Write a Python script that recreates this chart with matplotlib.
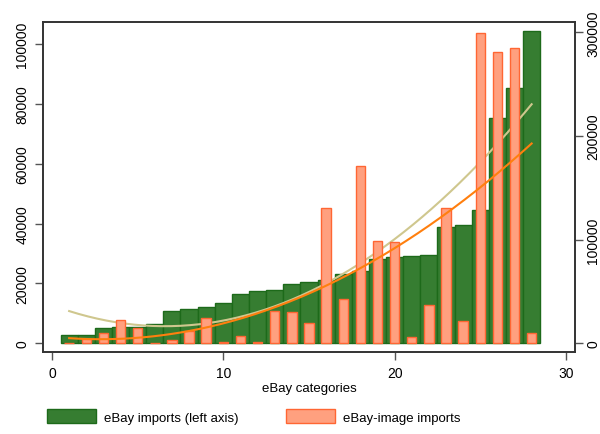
import numpy as np
import matplotlib
matplotlib.use('Agg')
import matplotlib.pyplot as plt
from matplotlib.patches import Patch

plt.rcParams['font.family'] = ['Liberation Sans', 'DejaVu Sans']

# eBay categories 1..28
categories = list(range(1, 29))

# eBay imports (left axis)
ebay_imports = [2800, 2800, 5000, 5400, 5400, 6300, 10800, 11500, 12300, 13500,
                16400, 17500, 17900, 19800, 20400, 21100, 23100, 24000, 28300, 28800,
                29100, 29500, 38800, 39600, 44400, 75200, 85300, 104200]

# eBay-image imports (right axis)
image_imports = [500, 4100, 9600, 22500, 14800, 600, 3500, 11700, 24200, 1000,
                 6600, 1000, 31100, 29900, 19300, 130200, 43200, 171000, 98800, 97400,
                 6400, 36600, 130200, 21800, 299200, 280600, 285100, 9600]

green = '#367d31'
green_edge = '#1d6a1a'
salmon = '#ffa07f'
salmon_edge = '#ff6633'
tan = '#cfc78e'
orange = '#ff7f0e'

x = np.array(categories)
g = np.array(ebay_imports)
o = np.array(image_imports)

fig = plt.figure(figsize=(6, 4.35), dpi=100)
ax = fig.add_axes([0.0717, 0.1878, 0.8866, 0.7586])
ax2 = ax.twinx()

ax.bar(x, g, width=1.0, color=green, edgecolor=green_edge, linewidth=1)
# quadratic fits
xs = np.linspace(1, 28, 200)
ax.plot(xs, np.polyval(np.polyfit(x, g, 2), xs), color=tan, linewidth=1.5)

ax2.bar(x, o, width=0.55, color=salmon, edgecolor=salmon_edge, linewidth=1)
ax2.plot(xs, np.polyval(np.polyfit(x, o, 2), xs), color=orange, linewidth=1.5)

ax.set_xlim(-0.525, 30.53)
ax.set_ylim(-3000, 107250)
ax2.set_ylim(-8680, 309650)

ax.set_xticks([0, 10, 20, 30])
ax.set_yticks([0, 20000, 40000, 60000, 80000, 100000])
ax2.set_yticks([0, 100000, 200000, 300000])

for a in (ax, ax2):
    for s in a.spines.values():
        s.set_linewidth(1.2)
        s.set_color('#333333')
    a.tick_params(length=6, width=1, color='#555555', labelsize=10)

ax.tick_params(axis='y', labelrotation=90, pad=4)
ax2.tick_params(axis='y', labelrotation=90, pad=2)
for l in ax.get_yticklabels() + ax2.get_yticklabels():
    l.set_va('center')

ax.set_xlabel('eBay categories', fontsize=9.5, labelpad=2)

handles = [Patch(facecolor=green, edgecolor=green_edge, label='eBay imports (left axis)'),
           Patch(facecolor=salmon, edgecolor=salmon_edge, label='eBay-image imports')]
fig.legend(handles=handles, loc='lower left', bbox_to_anchor=(0.07, 0.012), ncol=2,
           frameon=False, fontsize=9.5, handlelength=3.7, handleheight=1.15,
           columnspacing=3.6, handletextpad=0.6, borderaxespad=0)

fig.savefig('out.png', dpi=100)
